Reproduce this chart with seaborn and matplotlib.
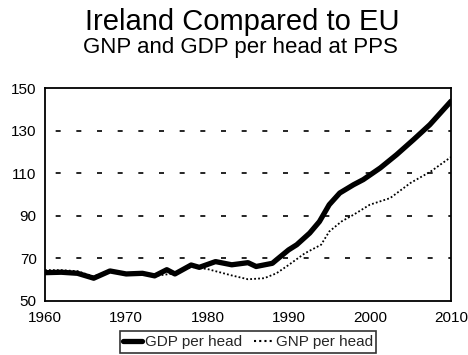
import matplotlib
matplotlib.use("Agg")
import matplotlib.pyplot as plt
import seaborn as sns
import pandas as pd
from matplotlib.lines import Line2D

# GDP per head at PPS (EU = 100)
gdp_years = [1960, 1962, 1964, 1966, 1968, 1970, 1972, 1973.5, 1975, 1976, 1978, 1979,
             1981, 1983, 1985, 1986, 1988, 1988.5, 1990, 1991, 1992.6, 1993.8, 1995,
             1996.3, 1998, 1999.2, 2001.3, 2003.3, 2005.4, 2007.4, 2010]
gdp_values = [63.3, 63.5, 63.0, 60.7, 64.1, 62.7, 63.0, 61.8, 64.7, 62.7, 66.9, 65.8,
              68.5, 67.0, 68.0, 66.2, 67.7, 69.3, 74.0, 76.4, 81.9, 87.3, 95.2,
              100.7, 104.6, 107.0, 112.5, 118.7, 125.8, 132.8, 143.8]

# GNP per head at PPS (EU = 100)
gnp_years = [1960, 1962, 1964, 1966, 1968, 1970, 1972, 1974, 1976, 1978, 1980, 1983,
             1985, 1987, 1988.5, 1990, 1992, 1994, 1995, 1996.5, 1998, 2000, 2002.5,
             2005, 2007.5, 2010]
gnp_values = [64.5, 64.5, 64.0, 61.5, 64.5, 63.0, 63.0, 62.0, 63.0, 66.0, 65.0, 62.0,
              60.2, 60.7, 63.0, 66.9, 72.4, 76.4, 82.6, 87.3, 90.5, 95.2, 98.3,
              105.4, 110.8, 117.6]

series_names = ["GDP per head", "GNP per head"]
x_ticks = [1960, 1970, 1980, 1990, 2000, 2010]
y_ticks = [50, 70, 90, 110, 130, 150]
grid_levels = [70, 90, 110, 130]

df = pd.concat([
    pd.DataFrame({"year": gdp_years, "value": gdp_values, "series": series_names[0]}),
    pd.DataFrame({"year": gnp_years, "value": gnp_values, "series": series_names[1]}),
])

sns.set_theme(style="white")
plt.rcParams["font.family"] = ["Liberation Sans", "DejaVu Sans"]

fig = plt.figure(figsize=(4.68, 3.55), dpi=100)
ax = fig.add_axes([45 / 468, 1 - 301 / 355, (451 - 45) / 468, (301 - 88) / 355])

sns.lineplot(data=df, x="year", y="value", hue="series", style="series",
             palette={series_names[0]: "black", series_names[1]: "black"},
             dashes={series_names[0]: "", series_names[1]: (1, 1.2)},
             size="series", sizes={series_names[0]: 3.8, series_names[1]: 1.3},
             ax=ax, legend=False, estimator=None, sort=True)

# dashed reference levels
for lvl in grid_levels:
    ax.axhline(lvl, color="black", lw=1.2, ls=(6, (3, 9.4)), zorder=0)

ax.set_xlim(1960, 2010)
ax.set_ylim(50, 150)
ax.set_xticks(x_ticks)
ax.set_yticks(y_ticks)
ax.tick_params(axis="both", labelsize=11, colors="black", length=0)
ax.tick_params(axis="x", pad=7)
ax.tick_params(axis="y", pad=6)
ax.set_xlabel("")
ax.set_ylabel("")
for s in ax.spines.values():
    s.set_color("black")
    s.set_linewidth(1.3)

handles = [Line2D([], [], color="black", lw=3.8, solid_capstyle="round"),
           Line2D([], [], color="black", lw=1.5, ls=(0, (1, 1.5)))]
leg = fig.legend(handles, series_names, loc="center", bbox_to_anchor=(248 / 468, 1 - 342 / 355),
                 ncol=2, frameon=True, fontsize=11, handlelength=1.2, handletextpad=0.2,
                 columnspacing=0.8, borderpad=0.25, fancybox=False, edgecolor="black")
leg.get_frame().set_linewidth(1.2)

fig.text(242 / 468, 1 - 22 / 355, "Ireland Compared to EU", ha="center", va="center",
         fontsize=21, color="black")
fig.text(240 / 468, 1 - 47 / 355, "GNP and GDP per head at PPS", ha="center", va="center",
         fontsize=16, color="black")

fig.savefig("out.png", dpi=100, facecolor="white")
